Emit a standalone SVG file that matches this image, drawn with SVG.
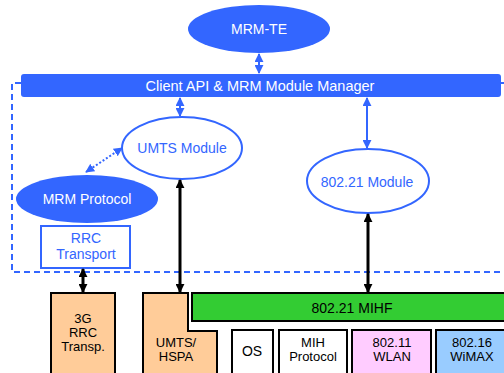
<svg xmlns="http://www.w3.org/2000/svg" width="504" height="373" viewBox="0 0 504 373">
<defs>
<style>
text{font-family:"Liberation Sans",Arial,sans-serif;font-size:14px;text-anchor:middle}
.w{fill:#fff}.b{fill:#3366ff}.k{fill:#000}
.m{font-size:13px}
.fb{fill:#3366ff;stroke:none}
.ob{fill:#fff;stroke:#3366ff;stroke-width:2}
.bx{stroke:#000;stroke-width:2}
.bl{stroke:#3366ff;stroke-width:2;fill:none}
.bk{stroke:#000;stroke-width:3;fill:none}
</style>
<marker id="ab" viewBox="0 0 10 10" refX="9" refY="5" markerWidth="9" markerHeight="9" markerUnits="userSpaceOnUse" orient="auto-start-reverse"><path d="M0,0 L10,5 L0,10 z" fill="#3366ff"/></marker>
<marker id="ak" viewBox="0 0 10 10" refX="9" refY="5" markerWidth="9" markerHeight="9" markerUnits="userSpaceOnUse" orient="auto-start-reverse"><path d="M0,0 L10,5 L0,10 z" fill="#000"/></marker>
</defs>
<rect width="504" height="373" fill="#fff"/>
<g id="boundary"><path d="M21 83 H12 V272 H504 M500 83 H504" fill="none" stroke="#3366ff" stroke-width="2" stroke-dasharray="6 4"/></g>
<g id="mrm-te"><ellipse cx="259" cy="29" rx="71" ry="24" class="fb"/><text x="259" y="34" class="w">MRM-TE</text></g>
<g id="manager"><rect x="21" y="74" width="480" height="23" rx="3" class="fb"/><text x="260" y="91" class="w" style="font-size:14.5px">Client API &amp; MRM Module Manager</text></g>
<g id="umts-module"><ellipse cx="182" cy="148" rx="60" ry="31" class="ob"/><text x="182" y="153" class="b">UMTS Module</text></g>
<g id="module-80221"><ellipse cx="368" cy="181" rx="61" ry="32" class="ob"/><text x="367" y="187" class="b">802.21 Module</text></g>
<g id="mrm-protocol"><ellipse cx="87" cy="199" rx="71" ry="24" class="fb"/><text x="87" y="204" class="w">MRM Protocol</text></g>
<g id="rrc-transport"><rect x="41" y="226" width="89" height="42" class="ob"/><text x="86" y="243" class="b">RRC</text><text x="86" y="259" class="b">Transport</text></g>
<g id="rrc-3g"><rect x="51" y="293" width="64" height="82" fill="#ffcc99" class="bx"/><text x="83" y="323" class="k m">3G</text><text x="83" y="337" class="k m">RRC</text><text x="83" y="351" class="k m">Transp.</text></g>
<g id="umts-hspa"><path d="M143 375 V293 H188 V331 H217 V375" fill="#ffcc99" class="bx"/><text x="176" y="347" class="k m">UMTS/</text><text x="176" y="361" class="k m">HSPA</text></g>
<g id="mihf"><rect x="192" y="293" width="315" height="28" fill="#33cc33" class="bx"/><text x="352" y="313" class="k">802.21 MIHF</text></g>
<g id="os"><rect x="232" y="330" width="41" height="45" fill="#fff" class="bx"/><text x="252" y="356" class="k">OS</text></g>
<g id="mih-protocol"><rect x="279" y="330" width="68" height="45" fill="#fff" class="bx"/><text x="313" y="347" class="k m">MIH</text><text x="313" y="361" class="k m">Protocol</text></g>
<g id="wlan"><rect x="352" y="330" width="79" height="45" fill="#ffccff" class="bx"/><text x="392" y="347" class="k m">802.11</text><text x="392" y="361" class="k m">WLAN</text></g>
<g id="wimax"><rect x="436" y="330" width="72" height="45" fill="#99ccff" class="bx"/><text x="472" y="347" class="k m">802.16</text><text x="472" y="361" class="k m">WiMAX</text></g>
<g id="connectors">
<line x1="259" y1="54" x2="259" y2="73" class="bl" marker-start="url(#ab)" marker-end="url(#ab)"/>
<line x1="180" y1="98" x2="180" y2="116" class="bl" marker-start="url(#ab)" marker-end="url(#ab)"/>
<line x1="367" y1="98" x2="367" y2="148" class="bl" marker-start="url(#ab)" marker-end="url(#ab)"/>
<line x1="86" y1="172" x2="122" y2="148" class="bl" stroke-dasharray="2 2" marker-start="url(#ab)" marker-end="url(#ab)"/>
<line x1="83" y1="269" x2="83" y2="292" class="bk" marker-start="url(#ak)" marker-end="url(#ak)"/>
<line x1="180" y1="180" x2="180" y2="292" class="bk" marker-start="url(#ak)" marker-end="url(#ak)"/>
<line x1="368" y1="214" x2="368" y2="292" class="bk" marker-start="url(#ak)" marker-end="url(#ak)"/>
</g>
</svg>
